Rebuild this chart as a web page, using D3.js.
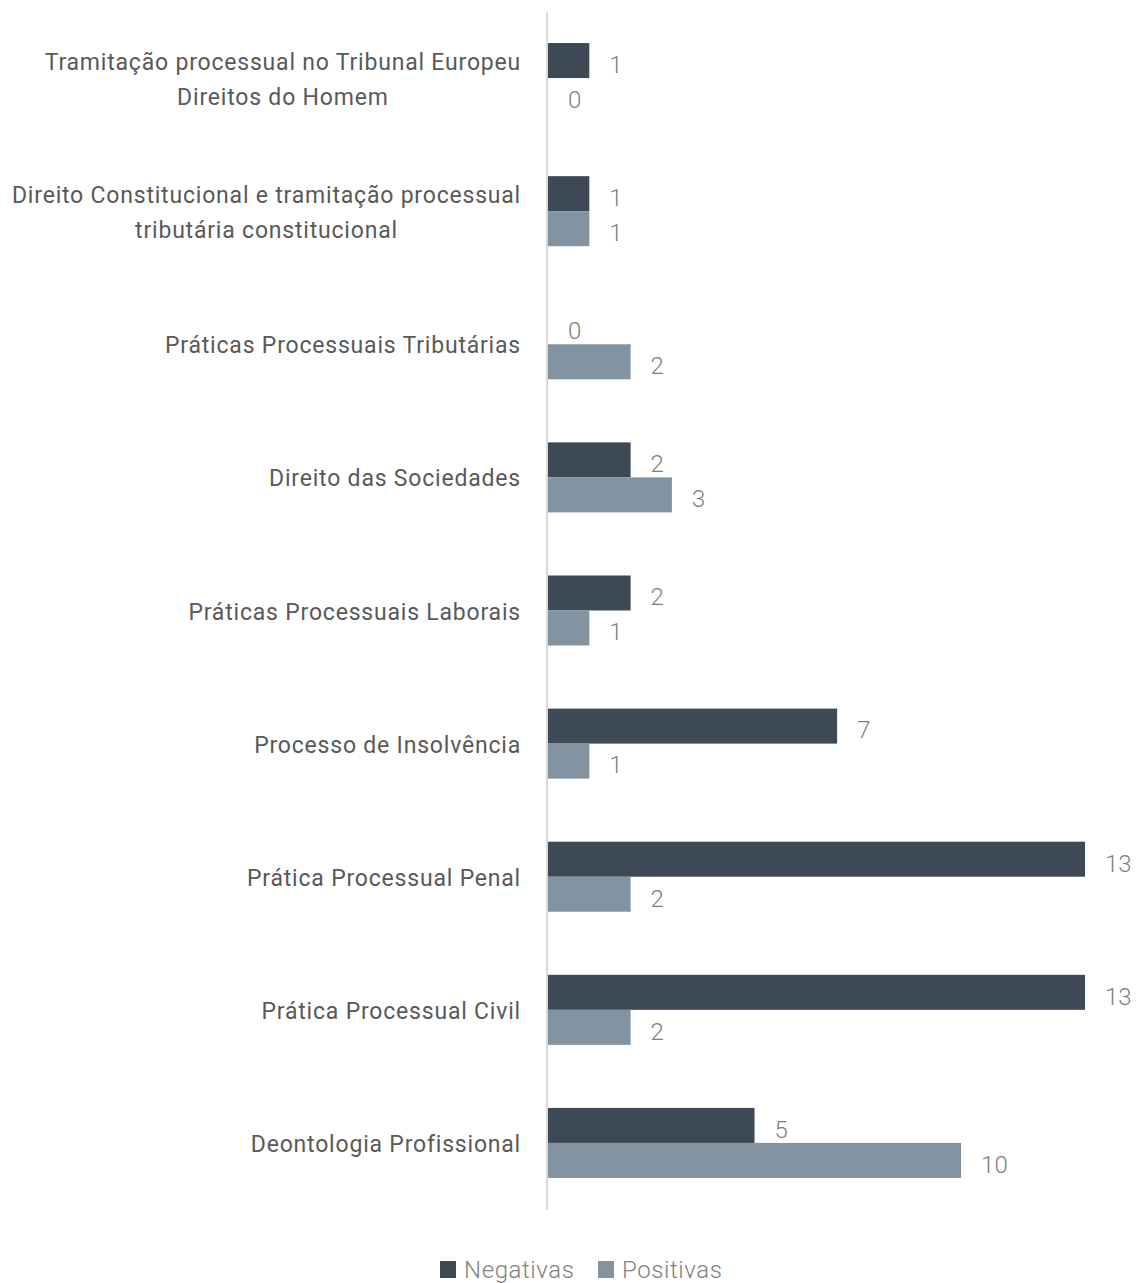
<!DOCTYPE html>
<html><head><meta charset="utf-8">
<script src="https://cdn.jsdelivr.net/npm/d3@7"></script>
<style>
body{margin:0;background:#fff;}
svg{display:block;font-family:Roboto, "Open Sans", sans-serif;}
</style></head>
<body>
<svg id="chart" width="1136" height="1283"></svg>
<script>
const categories = [
  "Tramitação processual no Tribunal Europeu\nDireitos do Homem",
  "Direito Constitucional e tramitação processual\ntributária constitucional",
  "Práticas Processuais Tributárias",
  "Direito das Sociedades",
  "Práticas Processuais Laborais",
  "Processo de Insolvência",
  "Prática Processual Penal",
  "Prática Processual Civil",
  "Deontologia Profissional"
];
const negativas = [1, 1, 0, 2, 2, 7, 13, 13, 5];
const positivas = [0, 1, 2, 3, 1, 1, 2, 2, 10];
const seriesNames = ["Negativas", "Positivas"];
const colors = ["#3d4a56", "#8293a1"];

const svg = d3.select("#chart");
const x = d3.scaleLinear().domain([0, 13]).range([548, 1085]);
const y = d3.scaleBand().domain(categories).range([11.5, 1209.5]).paddingInner(0.474).paddingOuter(0.237);
const sub = d3.scaleBand().domain(seriesNames).range([0, y.bandwidth()]);

const data = categories.map((c, i) => ({cat: c, vals: [negativas[i], positivas[i]]}));

const g = svg.append("g");
data.forEach(d => {
  d.vals.forEach((v, j) => {
    const yy = y(d.cat) + sub(seriesNames[j]);
    g.append("rect")
      .attr("x", x(0)).attr("y", yy)
      .attr("width", x(v) - x(0)).attr("height", sub.bandwidth())
      .attr("fill", colors[j]);
    g.append("text")
      .attr("x", x(v) + 20).attr("y", yy + sub.bandwidth() / 2 + 6)
      .attr("dominant-baseline", "middle")
      .attr("font-size", 24).attr("font-weight", 300)
      .attr("fill", "#7f7f7f")
      .text(v);
  });
});

// axis line
svg.append("line").attr("x1", 547).attr("x2", 547).attr("y1", 12).attr("y2", 1210)
  .attr("stroke", "#d9d9d9").attr("stroke-width", 2);

// category labels (block right-aligned, lines centered within block)
data.forEach(d => {
  const lines = d.cat.split("\n");
  const cy = y(d.cat) + y.bandwidth() / 2 + 3;
  const lh = 35;
  const grp = svg.append("g");
  const texts = lines.map((ln, k) => grp.append("text")
      .attr("font-size", 23).attr("font-weight", 400)
      .attr("letter-spacing", "0.8px")
      .attr("fill", "#595959")
      .attr("text-anchor", "middle")
      .attr("y", cy + (k - (lines.length - 1) / 2) * lh)
      .attr("dominant-baseline", "middle")
      .text(ln));
  const maxW = d3.max(texts, t => t.node().getComputedTextLength());
  const cx = 521 - maxW / 2;
  texts.forEach(t => t.attr("x", cx));
});

// legend
const legend = svg.append("g");
const legX = [440, 598];
seriesNames.forEach((s, j) => {
  legend.append("rect").attr("x", legX[j]).attr("y", 1261).attr("width", 16).attr("height", 17).attr("fill", colors[j]);
  legend.append("text").attr("x", legX[j] + 24).attr("y", 1272).attr("dominant-baseline", "middle")
    .attr("font-size", 24).attr("font-weight", 300).attr("letter-spacing", "0.6px")
    .attr("fill", "#7f7f7f").text(s);
});
</script>
</body></html>
